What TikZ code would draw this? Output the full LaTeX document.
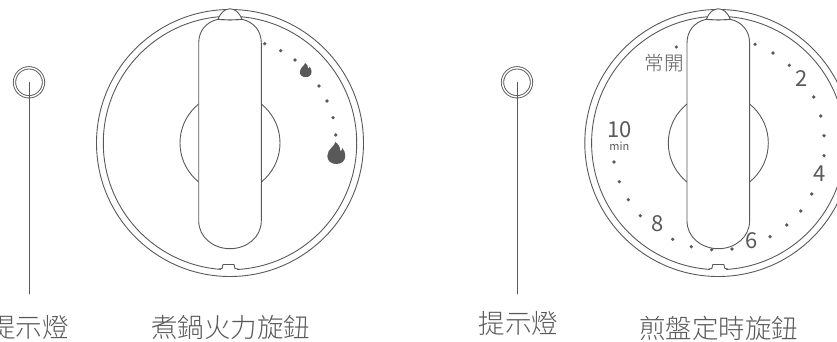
\documentclass[tikz,border=0pt]{standalone}
\usepackage{fontspec}
\setmainfont{Noto Sans CJK TC Light}
\newfontfamily\dialfont{Noto Sans CJK TC}
\definecolor{inkgray}{HTML}{595959}
\tikzset{
	linework/.style={draw=inkgray, line width=0.9pt},
	dotmark/.style={circle, fill=inkgray, inner sep=0pt, minimum size=3.6pt},
	dialtext/.style={text=inkgray, inner sep=0pt},
	numeral/.style={dialtext, font=\dialfont\fontsize{22}{22}\selectfont},
	lampring/.style={linework, circle, double=white, double distance=1.4pt, minimum size=29pt, inner sep=0pt},
	caption/.style={text=inkgray, inner sep=0pt, font=\fontsize{26.5}{26.5}\selectfont},
	flame/.pic={\fill[inkgray] (-1,-11) .. controls (-1,-7) and (-9,-4) .. (-9,3) .. controls (-9,8) and (-5,11) .. (0,11) .. controls (5,11) and (9,8) .. (9,3) .. controls (9,0) and (8,-3) .. (6,-5) .. controls (6,-3) and (5,-2) .. (4,-2) .. controls (4,-6) and (2,-9) .. (-1,-11) -- cycle;}
}
\begin{document}
\begin{tikzpicture}[x=1pt, y=-1pt, line join=round, line cap=round]
	\useasboundingbox (0,0) rectangle (837,342);
	% both dials
	\foreach \c/\n in {230/228.5,718.3/718.3} {
		\draw[linework] (\c,143) circle (133.5);
		\draw[linework] (\c,143) circle (126.7);
		\draw[linework] (\c,143) circle (50);
		\draw[linework, fill=white] (\c-31.3,43) .. controls (\c-31.3,31) and (\c-24,22) .. (\c-12,19.3) .. controls (\c-4,20) and (\c+4,20) .. (\c+12,19.3) .. controls (\c+24,22) and (\c+31.3,31) .. (\c+31.3,43) -- (\c+31.3,221) .. controls (\c+31.3,237) and (\c+17,248.7) .. (\c,248.7) .. controls (\c-17,248.7) and (\c-31.3,237) .. (\c-31.3,221) -- cycle;
		\draw[linework, fill=white] (\c-12,19.3) .. controls (\c-9,12) and (\c-5,9) .. (\c,8.8) .. controls (\c+5,9) and (\c+9,12) .. (\c+12,19.3) .. controls (\c+4,20) and (\c-4,20) .. (\c-12,19.3) -- cycle;
		\fill[white] (\n-8,265) rectangle (\n+8,271);
		\draw[linework] (\n-9.5,269) -- (\n-6.5,268.5) -- (\n-5.5,264.5) -- (\n+5.5,264.5) -- (\n+6.5,268.5) -- (\n+9.5,269);
	}
	% indicator lights
	\node[lampring] (ringL) at (29,82.3) {};
	\node[lampring] (ringR) at (517,82.3) {};
	\coordinate (leadL) at (29,294);
	\coordinate (leadR) at (517,294);
	\draw[linework] (ringL.center) -- (leadL);
	\draw[linework] (ringR.center) -- (leadR);
	% power dots
	\foreach \px/\py in {264.7/43.7,280.7/50.7,295/60,319/86,327/101,333/117.7,335.7/135} \node[dotmark] at (\px,\py) {};
	\pic[scale=0.65] at (305.7,70) {flame};
	\pic at (336.3,153) {flame};
	% timer dots
	\foreach \px/\py in {676.3/47,755/44.3,773/53,789.3/65.3,813.7/97,820.7/116,824/135.7,824/155.7,811.7/194,800.7/211,786.7/225,770/236.7,732/249,711.7/249.7,691.3/246.7,672.7/239.3,640.3/215.7,628.3/199.7,619.3/181.7,614/162} \node[dotmark] at (\px,\py) {};
	\node[numeral] (two) at (801.7,79) {2};
	\node[numeral] (four) at (819.3,174) {4};
	\node[numeral] (six) at (751.3,240.7) {6};
	\node[numeral] (eight) at (657.3,224) {8};
	\node[numeral] (ten) at (619.3,130) {10};
	\node[dialtext, font=\dialfont\fontsize{11}{11}\selectfont] (mins) at (619.3,146) {min};
	\node[dialtext, font=\fontsize{19.5}{19.5}\selectfont] (always) at (664.3,62.7) {常開};
	% captions
	\node[caption] (lampL) at (29,327) {提示燈};
	\node[caption] (lampR) at (518.6,323) {提示燈};
	\node[caption] (knobL) at (230.8,327.5) {煮鍋火力旋鈕};
	\node[caption] (knobR) at (718.8,328.3) {煎盤定時旋鈕};
\end{tikzpicture}
\end{document}
